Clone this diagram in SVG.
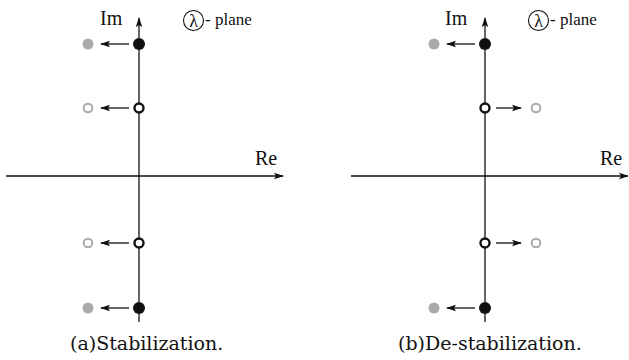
<svg xmlns="http://www.w3.org/2000/svg" width="629" height="360" viewBox="0 0 629 360">
<style>
.ax{stroke:#111;stroke-width:1.3;fill:none}
.ar{stroke:#111;stroke-width:1.3;fill:none}
.fb{fill:#111}
.ob{fill:#fff;stroke:#111;stroke-width:2.4}
.fg{fill:#aaa}
.og{fill:#fff;stroke:#aaa;stroke-width:2}
.t{font-family:'Liberation Serif','Times New Roman',serif;fill:#111}
.c{font-family:'DejaVu Serif',serif;fill:#111;font-size:19px}
.lc{fill:none;stroke:#111;stroke-width:1.1}
</style>
<defs>
<marker id="ah" markerWidth="10" markerHeight="8" refX="9" refY="4" orient="auto" markerUnits="userSpaceOnUse">
<path d="M0,0.8 L10,4 L0,7.2 L2,4 Z" fill="#111"/>
</marker>
</defs>
<g id="connectors">
<line class="ax" x1="139" y1="322" x2="139" y2="18" marker-end="url(#ah)"/>
<line class="ax" x1="6" y1="176" x2="283" y2="176" marker-end="url(#ah)"/>
<line class="ar" x1="129" y1="44" x2="101" y2="44" marker-end="url(#ah)"/>
<line class="ar" x1="129" y1="108" x2="101" y2="108" marker-end="url(#ah)"/>
<line class="ar" x1="129" y1="243" x2="101" y2="243" marker-end="url(#ah)"/>
<line class="ar" x1="129" y1="308" x2="101" y2="308" marker-end="url(#ah)"/>
<line class="ax" x1="485" y1="322" x2="485" y2="18" marker-end="url(#ah)"/>
<line class="ax" x1="351" y1="176" x2="628" y2="176" marker-end="url(#ah)"/>
<line class="ar" x1="475" y1="44" x2="447" y2="44" marker-end="url(#ah)"/>
<line class="ar" x1="496" y1="108" x2="521" y2="108" marker-end="url(#ah)"/>
<line class="ar" x1="496" y1="243" x2="521" y2="243" marker-end="url(#ah)"/>
<line class="ar" x1="475" y1="308" x2="447" y2="308" marker-end="url(#ah)"/>
</g>
<g id="panel-a">
<g id="a-p1"><circle class="fb" cx="139" cy="44" r="6"/></g>
<g id="a-g1"><circle class="fg" cx="88" cy="44" r="5.5"/></g>
<g id="a-p2"><circle class="ob" cx="139" cy="108" r="4.5"/></g>
<g id="a-g2"><circle class="og" cx="88" cy="108" r="4.3"/></g>
<g id="a-p3"><circle class="ob" cx="139" cy="243" r="4.5"/></g>
<g id="a-g3"><circle class="og" cx="88" cy="243" r="4.3"/></g>
<g id="a-p4"><circle class="fb" cx="139" cy="308" r="6"/></g>
<g id="a-g4"><circle class="fg" cx="88" cy="308" r="5.5"/></g>
<text class="t" x="100" y="25" font-size="20">Im</text>
<text class="t" x="255" y="165" font-size="20">Re</text>
<circle class="lc" cx="193.5" cy="20.5" r="10"/>
<text class="t" x="193.5" y="26.5" font-size="18" text-anchor="middle">λ</text>
<text class="t" x="205" y="25" font-size="17">- plane</text>
<text class="c" x="70" y="350">(a)Stabilization.</text>
</g>
<g id="panel-b">
<g id="b-p1"><circle class="fb" cx="485" cy="44" r="6"/></g>
<g id="b-g1"><circle class="fg" cx="434" cy="44" r="5.5"/></g>
<g id="b-p2"><circle class="ob" cx="485" cy="108" r="4.5"/></g>
<g id="b-g2"><circle class="og" cx="536" cy="108" r="4.3"/></g>
<g id="b-p3"><circle class="ob" cx="485" cy="243" r="4.5"/></g>
<g id="b-g3"><circle class="og" cx="536" cy="243" r="4.3"/></g>
<g id="b-p4"><circle class="fb" cx="485" cy="308" r="6"/></g>
<g id="b-g4"><circle class="fg" cx="434" cy="308" r="5.5"/></g>
<text class="t" x="445" y="25" font-size="20">Im</text>
<text class="t" x="600" y="165" font-size="20">Re</text>
<circle class="lc" cx="538.5" cy="20.5" r="10"/>
<text class="t" x="538.5" y="26.5" font-size="18" text-anchor="middle">λ</text>
<text class="t" x="550" y="25" font-size="17">- plane</text>
<text class="c" x="398" y="350">(b)De-stabilization.</text>
</g>
</svg>
